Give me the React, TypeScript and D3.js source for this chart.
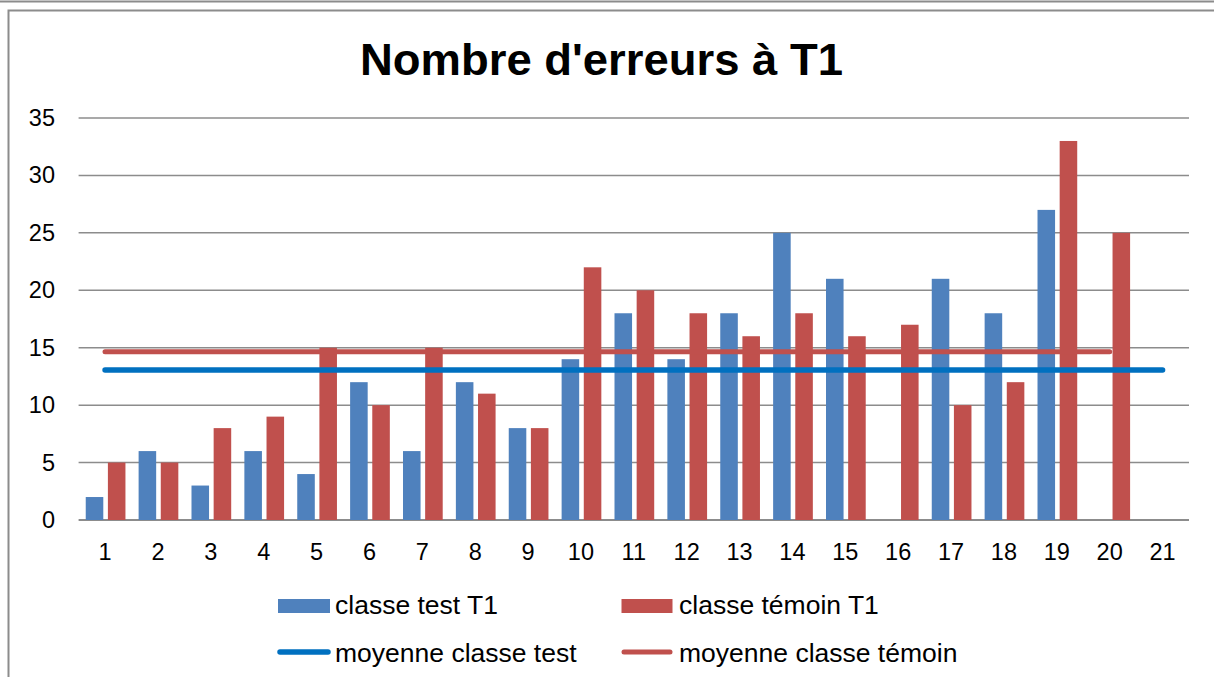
import React from "react";
import * as d3 from "d3";

const categories = [
  "1", "2", "3", "4", "5", "6", "7", "8", "9", "10", "11",
  "12", "13", "14", "15", "16", "17", "18", "19", "20", "21",
];
// null = no bar drawn for that student
const classeTest: (number | null)[] = [
  2, 6, 3, 6, 4, 12, 6, 12, 8, 14, 18, 14, 18, 25, 21, null, 21, 18, 27, null, null,
];
const classeTemoin: (number | null)[] = [
  5, 5, 8, 9, 15, 10, 15, 11, 8, 22, 20, 18, 16, 18, 16, 17, 10, 12, 33, 25, null,
];
const moyenneTest: (number | null)[] = [
  13.06, 13.06, 13.06, 13.06, 13.06, 13.06, 13.06, 13.06, 13.06, 13.06, 13.06,
  13.06, 13.06, 13.06, 13.06, 13.06, 13.06, 13.06, 13.06, 13.06, 13.06,
];
const moyenneTemoin: (number | null)[] = [
  14.65, 14.65, 14.65, 14.65, 14.65, 14.65, 14.65, 14.65, 14.65, 14.65, 14.65,
  14.65, 14.65, 14.65, 14.65, 14.65, 14.65, 14.65, 14.65, 14.65, null,
];
const yTicks = [0, 5, 10, 15, 20, 25, 30, 35];

const title = "Nombre d'erreurs à T1";
const FONT = "'Liberation Sans', Arial, sans-serif";
const BLUE = "#4F81BD";
const RED = "#C0504D";
const BLUE_LINE = "#0070C0";
const GRID = "#8c8c8c";

const App: React.FC = () => {
  const width = 1214;
  const height = 677;
  const plot = { left: 78.6, right: 1189, top: 118, bottom: 520 };

  const xScale = d3
    .scaleBand<string>()
    .domain(categories)
    .range([plot.left, plot.right])
    .padding(0);
  const band = xScale.bandwidth();
  const barW = band * 0.332;
  const barGap = band * 0.087;
  const barOffset = band * 0.135;

  const yScale = d3.scaleLinear().domain([0, 35]).range([plot.bottom, plot.top]);

  const center = (c: string) => (xScale(c) ?? 0) + band / 2;

  const line = d3
    .line<number | null>()
    .defined((d) => d !== null)
    .x((_, i) => center(categories[i]))
    .y((d) => yScale(d as number));

  return (
    <svg
      width={width}
      height={height}
      style={{ position: "absolute", left: 0, top: 0, background: "white" }}
      fontFamily={FONT}
    >
      {/* outer frame bits */}
      <line x1={0} x2={width} y1={1.5} y2={1.5} stroke={GRID} strokeWidth={2} />
      <rect x={8.5} y={10.5} width={width + 20} height={height + 20} fill="white" stroke={GRID} strokeWidth={2} />

      <text
        x={601.5}
        y={75}
        textAnchor="middle"
        fontSize={45}
        fontWeight="bold"
        textLength={483}
        lengthAdjust="spacingAndGlyphs"
      >
        {title}
      </text>

      {/* gridlines + y labels */}
      {yTicks.map((t) => (
        <g key={t}>
          <line
            x1={plot.left}
            x2={plot.right}
            y1={yScale(t)}
            y2={yScale(t)}
            stroke={GRID}
            strokeWidth={t === 0 ? 2 : 1.5}
          />
          <text x={55} y={yScale(t)} textAnchor="end" dominantBaseline="central" fontSize={23.5}>
            {t}
          </text>
        </g>
      ))}

      {/* bars */}
      {categories.map((c, i) => {
        const x0 = xScale(c) ?? 0;
        const a = classeTest[i];
        const b = classeTemoin[i];
        return (
          <g key={c}>
            {a !== null && (
              <rect x={x0 + barOffset} y={yScale(a)} width={barW} height={yScale(0) - yScale(a)} fill={BLUE} />
            )}
            {b !== null && (
              <rect
                x={x0 + barOffset + barW + barGap}
                y={yScale(b)}
                width={barW}
                height={yScale(0) - yScale(b)}
                fill={RED}
              />
            )}
            <text x={center(c)} y={552} textAnchor="middle" dominantBaseline="central" fontSize={23.5}>
              {c}
            </text>
          </g>
        );
      })}

      {/* mean lines */}
      <path d={line(moyenneTest) ?? ""} fill="none" stroke={BLUE_LINE} strokeWidth={5.5} strokeLinecap="round" />
      <path d={line(moyenneTemoin) ?? ""} fill="none" stroke={RED} strokeWidth={5} strokeLinecap="round" />

      {/* legend */}
      <g fontSize={26.5}>
        <rect x={278} y={599} width={52} height={14} fill={BLUE} />
        <text x={335} y={614}>classe test T1</text>
        <rect x={621.5} y={599} width={51} height={14} fill={RED} />
        <text x={679} y={614}>classe témoin T1</text>
        <line x1={280} x2={328} y1={652} y2={652} stroke={BLUE_LINE} strokeWidth={5.5} strokeLinecap="round" />
        <text x={335} y={662}>moyenne classe test</text>
        <line x1={624} x2={670} y1={652} y2={652} stroke={RED} strokeWidth={5} strokeLinecap="round" />
        <text x={679} y={662}>moyenne classe témoin</text>
      </g>
    </svg>
  );
};

export default App;
